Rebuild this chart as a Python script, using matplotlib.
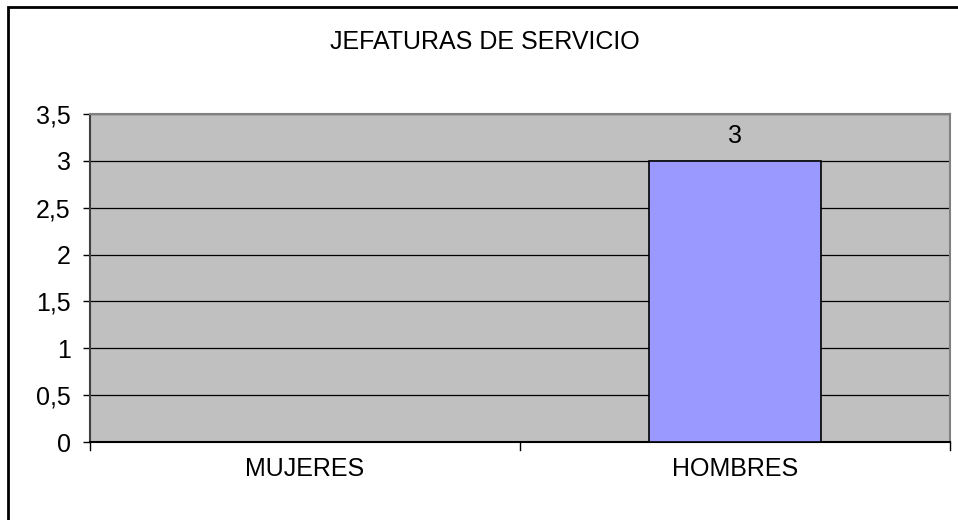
import matplotlib
matplotlib.use("Agg")
import matplotlib.pyplot as plt
from matplotlib.patches import Rectangle

# data
categories = ["MUJERES", "HOMBRES"]
values = [0, 3]
yticks = [0, 0.5, 1, 1.5, 2, 2.5, 3, 3.5]
ytick_labels = ["0", "0,5", "1", "1,5", "2", "2,5", "3", "3,5"]
title = "JEFATURAS DE SERVICIO"

plt.rcParams["font.family"] = ["Liberation Sans", "DejaVu Sans"]

fig = plt.figure(figsize=(9.58, 5.2), dpi=100)
ax = fig.add_axes([90 / 958, 1 - 442 / 520, 860 / 958, 328 / 520])

# outer frame of the chart
fig.patches.append(Rectangle((8 / 958, -0.1), 1.2, 1 - 7 / 520 + 0.1,
                             transform=fig.transFigure, fill=False,
                             edgecolor="black", linewidth=2, zorder=0))

ax.set_facecolor("#C0C0C0")
ax.set_axisbelow(True)
ax.yaxis.grid(True, color="black", linewidth=0.9)

x = list(range(len(categories)))
bars = ax.bar(x, values, width=0.4, color="#9999FF", edgecolor="black",
              linewidth=1.2, zorder=3)
for xi, v in zip(x, values):
    if v > 0:
        ax.text(xi, v + 0.14, str(v), ha="center", va="bottom", fontsize=18)

ax.set_xlim(-0.5, 1.5)
ax.set_ylim(0, 3.5)
ax.set_yticks(yticks)
ax.set_yticklabels(ytick_labels, fontsize=18)
ax.set_xticks(x)
ax.set_xticklabels(categories, fontsize=18)
ax.tick_params(axis="x", length=0, pad=11)
ax.tick_params(axis="y", length=5, width=1, pad=9)

# category separators on x axis
for b in [-0.5, 0.5, 1.5]:
    ax.plot([b, b], [0, -0.085], color="black", linewidth=1,
            clip_on=False)

for side in ["top", "right"]:
    ax.spines[side].set_color("#808080")
    ax.spines[side].set_linewidth(1.5)
ax.spines["left"].set_color("#404040")
ax.spines["left"].set_linewidth(1.5)
ax.spines["bottom"].set_color("black")
ax.spines["bottom"].set_linewidth(1.5)

fig.text(485 / 958, 1 - 42 / 520, title, ha="center", va="center", fontsize=18)

fig.savefig("out.png", dpi=100)
